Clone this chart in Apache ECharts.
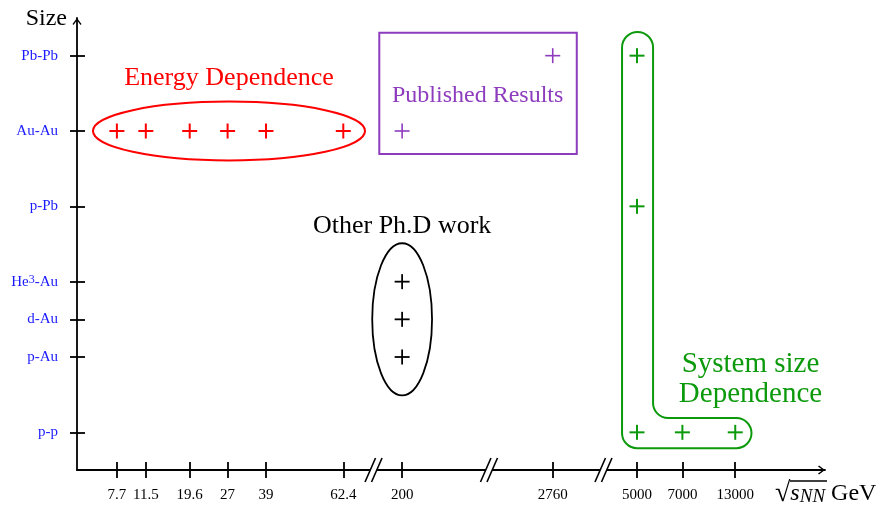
<!DOCTYPE html>
<html><head><meta charset="utf-8">
<script src="https://cdn.jsdelivr.net/npm/echarts@6/dist/echarts.min.js"></script>
<style>html,body{margin:0;padding:0;background:#fff}#c{width:881px;height:507px}</style>
</head><body><div id="c"></div>
<script>
// ---- axis categories (broken energy axis) ----
const energyLabels = ['7.7','11.5','19.6','27','39','62.4','200','2760','5000','7000','13000'];
const energyAxisPos = [4.0, 6.9, 11.3, 15.1, 18.95, 26.7, 32.6, 47.7, 56.15, 60.7, 66.0];
const axisBreaks = [29.73, 41.31, 52.79];
const systemLabels = ['p-p','p-Au','d-Au','He3-Au','p-Pb','Au-Au','Pb-Pb'];
const systemAxisPos = [0, 2, 3, 4, 6, 8, 10];

// ---- points: [energy, system] ----
const energyScan = [['7.7','Au-Au'],['11.5','Au-Au'],['19.6','Au-Au'],['27','Au-Au'],['39','Au-Au'],['62.4','Au-Au']];
const publishedResults = [['2760','Pb-Pb'],['200','Au-Au']];
const otherPhD = [['200','He3-Au'],['200','d-Au'],['200','p-Au']];
const systemSizeScan = [['5000','Pb-Pb'],['5000','p-Pb'],['5000','p-p'],['7000','p-p'],['13000','p-p']];

const FONT = '"Liberation Serif", "Times New Roman", serif';
const RED = '#ff0000', PURPLE = '#8e3cbe', GREEN = '#0c9a0c', BLUE = '#1a1aff';

const toXY = p => [energyAxisPos[energyLabels.indexOf(p[0])], systemAxisPos[systemLabels.indexOf(p[1])]];

function plusSeries(name, points, color, half, lw) {
  return {
    type: 'custom', name, xAxisIndex: 0, yAxisIndex: 0, z: 6,
    data: points.map(toXY), encode: { x: 0, y: 1 },
    renderItem(params, api) {
      const p = api.coord([api.value(0), api.value(1)]);
      return { type: 'group', children: [
        { type: 'line', shape: { x1: p[0] - half, y1: p[1], x2: p[0] + half, y2: p[1] }, style: { stroke: color, lineWidth: lw } },
        { type: 'line', shape: { x1: p[0], y1: p[1] - half, x2: p[0], y2: p[1] + half }, style: { stroke: color, lineWidth: lw } }
      ] };
    }
  };
}

// annotation shapes in data units
const shapes = [
  { kind: 'ellipse', c: [15.24, 8], r: [13.64, 0.78], color: RED, lw: 2 },
  { kind: 'ellipse', c: [32.6, 3], r: [3.0, 2.02], color: '#000', lw: 1.8 },
  { kind: 'rect', x: [30.31, 50.11], y: [7.39, 10.61], color: PURPLE, lw: 2 },
  { kind: 'lshape', x: [54.65, 57.76, 67.63], y: [10.63, 0.38, -0.42], color: GREEN, lw: 2 },
  { kind: 'text', c: [15.24, 9.41], text: 'Energy Dependence', color: RED, size: 26 },
  { kind: 'text', c: [32.6, 5.48], text: 'Other Ph.D work', color: '#000', size: 26 },
  { kind: 'text', c: [40.17, 8.93], text: 'Published Results', color: PURPLE, size: 24 },
  { kind: 'text', c: [67.53, 1.41], text: 'System size\nDependence', color: GREEN, size: 29, lh: 30 }
];

function renderShape(params, api) {
  const s = shapes[params.dataIndex];
  if (s.kind === 'ellipse') {
    const c = api.coord(s.c), r = api.size(s.r);
    const d = `M${c[0]-r[0]},${c[1]} A${r[0]},${r[1]} 0 1 0 ${c[0]+r[0]},${c[1]} A${r[0]},${r[1]} 0 1 0 ${c[0]-r[0]},${c[1]} Z`;
    return { type: 'path', shape: { pathData: d }, style: { stroke: s.color, fill: 'none', lineWidth: s.lw } };
  }
  if (s.kind === 'rect') {
    const a = api.coord([s.x[0], s.y[1]]), b = api.coord([s.x[1], s.y[0]]);
    return { type: 'rect', shape: { x: a[0], y: a[1], width: b[0] - a[0], height: b[1] - a[1] }, style: { stroke: s.color, fill: 'none', lineWidth: s.lw } };
  }
  if (s.kind === 'lshape') {
    const L = api.coord([s.x[0], 0])[0], R1 = api.coord([s.x[1], 0])[0], Rx = api.coord([s.x[2], 0])[0];
    const T = api.coord([0, s.y[0]])[1], Yi = api.coord([0, s.y[1]])[1], B = api.coord([0, s.y[2]])[1];
    const rt = (R1 - L) / 2, rr = (B - Yi) / 2, rc = 15;
    const d = `M${L},${T+rt} A${rt},${rt} 0 0 1 ${R1},${T+rt} L${R1},${Yi-rc} A${rc},${rc} 0 0 0 ${R1+rc},${Yi} ` +
      `L${Rx-rr},${Yi} A${rr},${rr} 0 0 1 ${Rx-rr},${B} L${L+rc},${B} A${rc},${rc} 0 0 1 ${L},${B-rc} Z`;
    return { type: 'path', shape: { pathData: d }, style: { stroke: s.color, fill: 'none', lineWidth: s.lw } };
  }
  if (s.kind === 'text') {
    const c = api.coord(s.c);
    return { type: 'text', x: c[0], y: c[1], style: { text: s.text, fill: s.color, font: `${s.size}px ${FONT}`,
      align: 'center', verticalAlign: 'middle', lineHeight: s.lh || s.size } };
  }
}

function renderBreak(params, api) {
  const c = api.coord([axisBreaks[params.dataIndex], -1]);
  const x = c[0], y = c[1];
  const s1 = [[x - 8.5, y + 12], [x + 2, y - 12]], s2 = [[x - 2, y + 12], [x + 8.5, y - 12]];
  return { type: 'group', children: [
    { type: 'polygon', shape: { points: [s1[0], s1[1], s2[1], s2[0]] }, style: { fill: '#fff' } },
    { type: 'line', shape: { x1: s1[0][0], y1: s1[0][1], x2: s1[1][0], y2: s1[1][1] }, style: { stroke: '#000', lineWidth: 1.6 } },
    { type: 'line', shape: { x1: s2[0][0], y1: s2[0][1], x2: s2[1][0], y2: s2[1][1] }, style: { stroke: '#000', lineWidth: 1.6 } }
  ] };
}

const ARROW = 'path://M0,6 L4.5,0 L9,6 L8,7 L4.5,2.2 L1,7 Z';
const axisLineStyle = { color: '#000', width: 1.8 };

const option = {
  animation: false,
  backgroundColor: '#fff',
  grid: { left: 77, right: 56, top: 18, bottom: 37, containLabel: false, outerBoundsMode: 'none' },
  xAxis: [
    {
      type: 'value', position: 'bottom', min: 0, max: 75,
      axisLine: { show: true, onZero: false, lineStyle: axisLineStyle, symbol: ['none', ARROW], symbolSize: [9, 7], symbolOffset: [0, -3.5] },
      axisTick: { show: true, inside: false, length: 8, lineStyle: { color: '#000', width: 1.8 }, customValues: energyAxisPos },
      axisLabel: { show: true, margin: 18, color: '#000', fontSize: 15, fontFamily: FONT, customValues: energyAxisPos,
        formatter: v => energyLabels[energyAxisPos.indexOf(v)] || '' },
      splitLine: { show: false },
      name: '{sp| }{bar| }\n{rad|√}{s|s}{sub|NN}{gev| GeV}',
      nameLocation: 'end', nameGap: -50,
      nameTextStyle: {
        align: 'left', verticalAlign: 'top', padding: [10, 0, 0, 0], color: '#000', fontFamily: FONT,
        rich: {
          sp: { width: 15, fontSize: 1, height: 2, lineHeight: 2 },
          bar: { width: 37, fontSize: 1, height: 1.3, lineHeight: 2, backgroundColor: '#000' },
          rad: { fontSize: 28, fontFamily: FONT, color: '#000', lineHeight: 24 },
          s: { fontSize: 24, fontStyle: 'italic', fontFamily: FONT, color: '#000' },
          sub: { fontSize: 19, fontStyle: 'italic', fontFamily: FONT, color: '#000', verticalAlign: 'bottom' },
          gev: { fontSize: 24, fontFamily: FONT, color: '#000' }
        }
      }
    },
    {
      type: 'value', position: 'bottom', min: 0, max: 75,
      axisLine: { show: false, onZero: false },
      axisTick: { show: true, inside: true, length: 8, lineStyle: { color: '#000', width: 1.8 }, customValues: energyAxisPos },
      axisLabel: { show: false }, splitLine: { show: false }
    }
  ],
  yAxis: [
    {
      type: 'value', position: 'left', min: -1, max: 11,
      axisLine: { show: true, onZero: false, lineStyle: axisLineStyle, symbol: ['none', ARROW], symbolSize: [9, 7], symbolOffset: [0, -3.5] },
      axisTick: { show: true, inside: false, length: 7, lineStyle: { color: '#000', width: 1.8 }, customValues: systemAxisPos },
      axisLabel: { show: true, margin: 19, color: BLUE, fontSize: 15, fontFamily: FONT, customValues: systemAxisPos,
        formatter: v => { const l = systemLabels[systemAxisPos.indexOf(v)] || ''; return l === 'He3-Au' ? 'He{sup|3}-Au' : l; },
        rich: { sup: { fontSize: 12, color: BLUE, fontFamily: FONT, verticalAlign: 'top' } } },
      splitLine: { show: false },
      name: 'Size', nameLocation: 'end', nameGap: -1,
      nameTextStyle: { align: 'right', verticalAlign: 'middle', fontSize: 24, color: '#000', fontFamily: FONT, padding: [0, 10, 0, 0] }
    },
    {
      type: 'value', position: 'left', min: -1, max: 11,
      axisLine: { show: false, onZero: false },
      axisTick: { show: true, inside: true, length: 8, lineStyle: { color: '#000', width: 1.8 }, customValues: systemAxisPos },
      axisLabel: { show: false }, splitLine: { show: false }
    }
  ],
  series: [
    { type: 'custom', name: 'breaks', xAxisIndex: 0, yAxisIndex: 0, z: 3, silent: true,
      data: axisBreaks.map(b => [b, -1]), encode: { x: 0, y: 1 }, renderItem: renderBreak },
    { type: 'custom', name: 'annotations', xAxisIndex: 0, yAxisIndex: 0, z: 4, silent: true,
      data: shapes.map((s, i) => [i, 0]), renderItem: renderShape },
    plusSeries('Energy Dependence', energyScan, RED, 7.5, 2),
    plusSeries('Published Results', publishedResults, PURPLE, 7.5, 1.6),
    plusSeries('Other Ph.D work', otherPhD, '#000', 7.5, 1.8),
    plusSeries('System size Dependence', systemSizeScan, GREEN, 7.5, 2)
  ]
};

const chart = echarts.init(document.getElementById('c'), null, { renderer: 'canvas' });
chart.setOption(option);
</script>
</body></html>
